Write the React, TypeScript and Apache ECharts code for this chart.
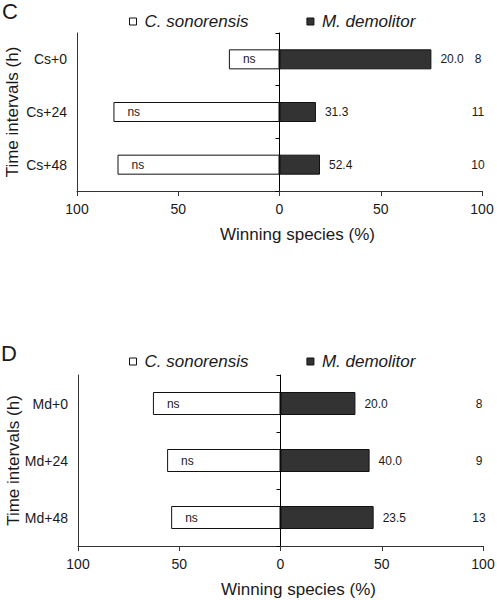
import React, { useEffect, useRef } from "react";
import * as echarts from "echarts";

const categoriesC = ["Cs+0", "Cs+24", "Cs+48"];
const sonorensisC = [25, 82, 80];
const demolitorC = [75, 18, 20];
const pctLabelsC = ["20.0", "31.3", "52.4"];
const nC = [8, 11, 10];
const sigC = ["ns", "ns", "ns"];

const categoriesD = ["Md+0", "Md+24", "Md+48"];
const sonorensisD = [63, 56, 54];
const demolitorD = [37, 44, 46];
const pctLabelsD = ["20.0", "40.0", "23.5"];
const nD = [8, 9, 13];
const sigD = ["ns", "ns", "ns"];

const xTicks = [-100, -50, 0, 50, 100];

const FONT = "'Liberation Sans', Arial, sans-serif";
const TXT = "#1a1a1a";
const AX = "#333";
const DARK = "#333333";

export default function App() {
  const ref = useRef<HTMLDivElement>(null);
  useEffect(() => {
    if (!ref.current) return;
    const chart = echarts.init(ref.current, null, { renderer: "svg" });

    const panels = [
      { cats: categoriesC, cs: sonorensisC, md: demolitorC, pct: pctLabelsC, n: nC, sig: sigC, top: 33, height: 158, left: 77, right: 15, barW: 20 },
      { cats: categoriesD, cs: sonorensisD, md: demolitorD, pct: pctLabelsD, n: nD, sig: sigD, top: 375, height: 171, left: 78, right: 14, barW: 23 },
    ];

    const grid: any[] = [];
    const xAxis: any[] = [];
    const yAxis: any[] = [];
    const series: any[] = [];

    panels.forEach((p, i) => {
      grid.push({ left: p.left, right: p.right, top: p.top, height: p.height, containLabel: false, outerBoundsMode: "none" });
      xAxis.push({
        type: "value",
        gridIndex: i,
        min: xTicks[0],
        max: xTicks[xTicks.length - 1],
        interval: 50,
        splitLine: { show: false },
        axisLine: { show: true, onZero: false, lineStyle: { color: AX, width: 1 } },
        axisTick: { show: true, length: 5, lineStyle: { color: AX } },
        axisLabel: {
          color: TXT,
          fontFamily: FONT,
          fontSize: 14,
          margin: 11,
          formatter: (v: number) => String(Math.abs(v)),
        },
        name: "Winning species (%)",
        nameLocation: "middle",
        nameGap: 35,
        nameMoveOverlap: false,
        nameTextStyle: { color: TXT, fontFamily: FONT, fontSize: 17, padding: [0, 0, 0, 36] },
      });
      yAxis.push({
        type: "category",
        gridIndex: i,
        data: p.cats,
        inverse: true,
        position: "left",
        axisLine: { show: true, onZero: false, lineStyle: { color: AX, width: 1 } },
        axisTick: { show: false },
        axisLabel: { color: TXT, fontFamily: FONT, fontSize: 14, margin: 10 },
        name: "Time intervals (h)",
        nameLocation: "middle",
        nameGap: 56,
        nameMoveOverlap: false,
        nameTextStyle: { color: TXT, fontFamily: FONT, fontSize: 17 },
      });
      yAxis.push({
        type: "category",
        gridIndex: i,
        data: p.cats,
        inverse: true,
        position: "left",
        axisLine: { show: true, onZero: true, lineStyle: { color: "#000", width: 1 } },
        axisTick: { show: true, length: 4, lineStyle: { color: "#000" } },
        axisLabel: { show: false },
      });
      const yIdx = i * 2;
      series.push({
        name: "C. sonorensis",
        type: "bar",
        xAxisIndex: i,
        yAxisIndex: yIdx,
        barWidth: p.barW,
        barGap: "-100%",
        data: p.cs.map((v) => -v),
        itemStyle: { color: "#ffffff", borderColor: "#111", borderWidth: 1 },
        label: {
          show: true,
          position: "insideLeft",
          distance: 14,
          color: TXT,
          fontFamily: FONT,
          fontSize: 12,
          formatter: (d: any) => p.sig[d.dataIndex],
        },
      });
      series.push({
        name: "M. demolitor",
        type: "bar",
        xAxisIndex: i,
        yAxisIndex: yIdx,
        barWidth: p.barW,
        barGap: "-100%",
        data: p.md,
        itemStyle: { color: DARK, borderColor: "#111", borderWidth: 1 },
        label: {
          show: true,
          position: "right",
          distance: 9,
          color: TXT,
          fontFamily: FONT,
          fontSize: 12,
          formatter: (d: any) => p.pct[d.dataIndex],
        },
      });
      series.push({
        name: "n",
        type: "scatter",
        xAxisIndex: i,
        yAxisIndex: yIdx,
        symbolSize: 0.1,
        itemStyle: { color: TXT, opacity: 1 },
        data: p.cats.map((c, k) => [xTicks[xTicks.length - 1], c, p.n[k]]),
        label: {
          show: true,
          position: "inside",
          align: "center",
          offset: [-4, 0],
          color: TXT,
          opacity: 1,
          textBorderWidth: 0,
          fontFamily: FONT,
          fontSize: 12,
          formatter: (d: any) => String(d.value[2]),
        },
        clip: false,
      });
    });

    const legendBase = {
      data: ["C. sonorensis", "M. demolitor"],
      itemWidth: 7,
      itemHeight: 7,
      itemGap: 58,
      icon: "rect",
      itemStyle: { borderWidth: 1, borderColor: "#111" },
      textStyle: { color: TXT, fontFamily: FONT, fontSize: 17, fontStyle: "italic", padding: [0, 0, 0, 3] },
      selectedMode: false,
    };

    chart.setOption({
      animation: false,
      backgroundColor: "#ffffff",
      textStyle: { fontFamily: FONT },
      grid,
      xAxis,
      yAxis,
      series,
      legend: [
        { ...legendBase, left: 124, top: 8 },
        { ...legendBase, left: 124, top: 348 },
      ],
      graphic: [
        { type: "text", left: 2, top: 0, style: { text: "C", fill: TXT, font: `22px ${FONT}` } },
        { type: "text", left: 1, top: 342, style: { text: "D", fill: TXT, font: `22px ${FONT}` } },
      ],
    });
    return () => chart.dispose();
  }, []);
  return <div ref={ref} style={{ width: 497, height: 600, position: "absolute", left: 0, top: 0 }} />;
}
